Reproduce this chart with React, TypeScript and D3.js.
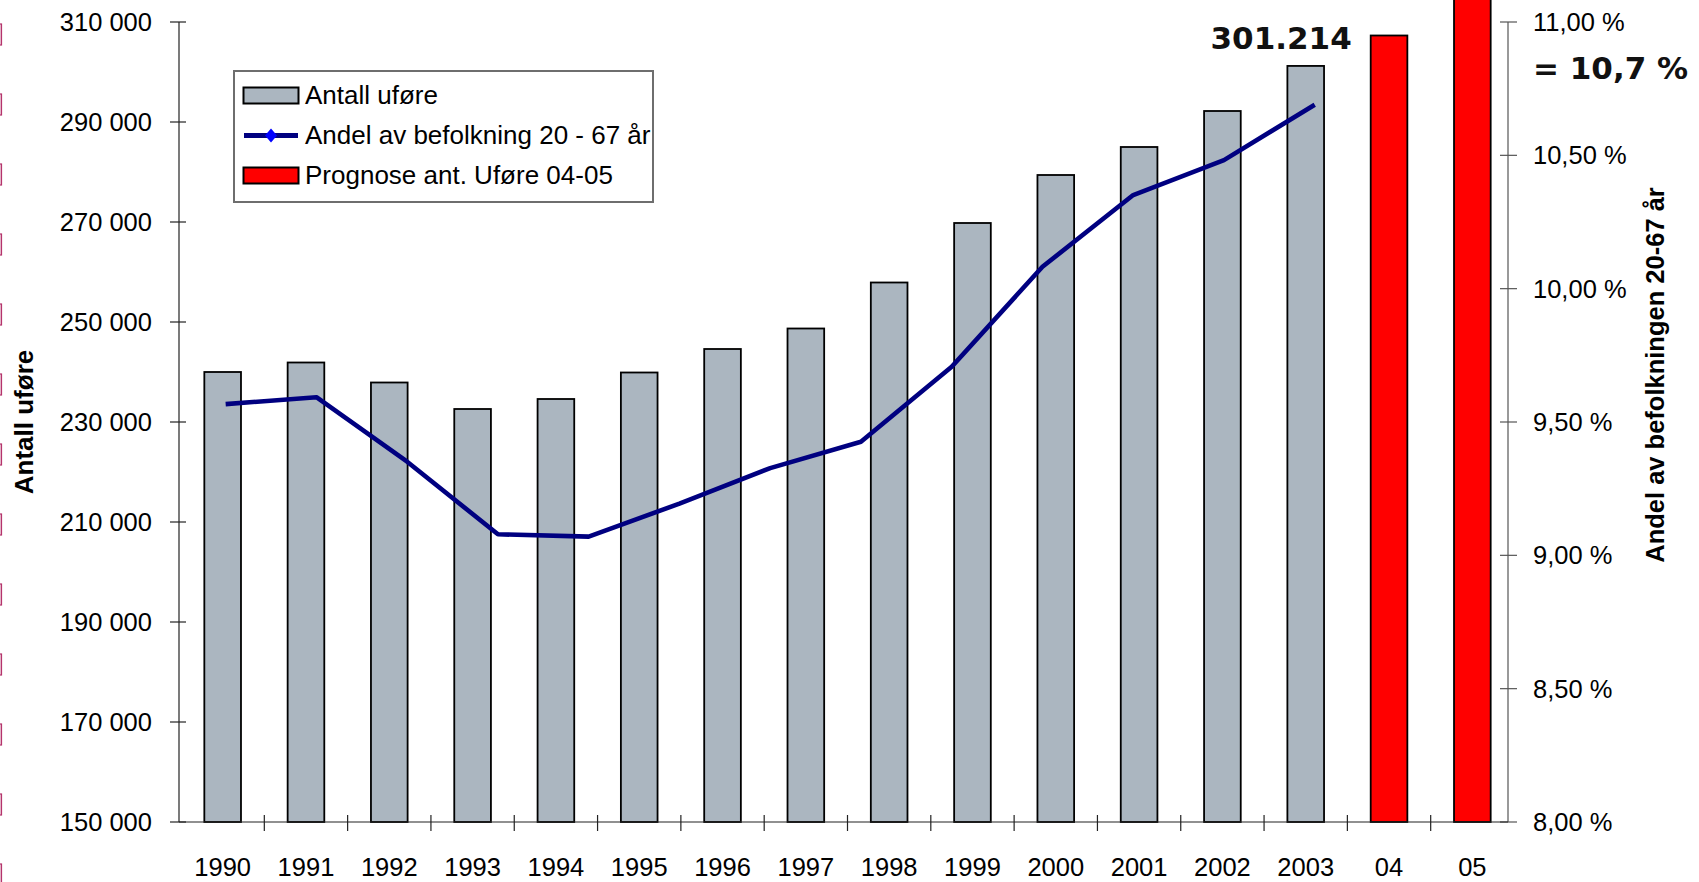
import React from "react";
import * as d3 from "d3";

// Categories along the x axis: recorded years plus the two forecast years
const categories = [
  "1990", "1991", "1992", "1993", "1994", "1995", "1996", "1997",
  "1998", "1999", "2000", "2001", "2002", "2003", "04", "05",
];

// Number of disability pensioners (Antall uføre), 1990–2003
const recordedYears = [
  "1990", "1991", "1992", "1993", "1994", "1995", "1996",
  "1997", "1998", "1999", "2000", "2001", "2002", "2003",
];
const recordedCounts = [
  240000, 241900, 237900, 232600, 234600, 239900, 244600,
  248700, 257900, 269800, 279400, 285000, 292200, 301214,
];

// Forecast of pensioners for 2004–2005
const forecastYears = ["04", "05"];
const forecastCounts = [307300, 316000];

// Share of population aged 20–67 (%), secondary axis
const shareYears = [
  "1991", "1992", "1993", "1994", "1995", "1996", "1997",
  "1998", "1999", "2000", "2001", "2002", "2003",
];
const shareValues = [
  9.567, 9.593, 9.351, 9.079, 9.07, 9.194, 9.327,
  9.426, 9.707, 10.082, 10.351, 10.482, 10.69,
];

// Axis ticks
const leftTicks = [150000, 170000, 190000, 210000, 230000, 250000, 270000, 290000, 310000];
const rightTicks = [8, 8.5, 9, 9.5, 10, 10.5, 11];

const legendItems = [
  { label: "Antall uføre", kind: "bar" },
  { label: "Andel av befolkning 20 - 67 år", kind: "line" },
  { label: "Prognose ant. Uføre 04-05", kind: "forecast" },
];

const W = 1699;
const H = 882;
const plot = { left: 179, right: 1508, top: 22, bottom: 822 };

const GREY = "#abb6c0";
const RED = "#ff0000";
const NAVY = "#000080";
const FONT = "Arial, 'Liberation Sans', sans-serif";
const BOLD_FONT = "Verdana, 'DejaVu Sans', sans-serif";

const fmtLeft = (v: number) => d3.format(",")(v).replace(/,/g, " ");
const fmtRight = (v: number) => d3.format(".2f")(v).replace(".", ",") + " %";

export default function App() {
  const x = d3
    .scaleBand<string>()
    .domain(categories)
    .range([181, 1514])
    .paddingInner(0.56)
    .paddingOuter(0.28);
  const yLeft = d3.scaleLinear().domain([150000, 310000]).range([plot.bottom, plot.top]);
  const yRight = d3.scaleLinear().domain([8, 11]).range([plot.bottom, plot.top]);
  const cx = (c: string) => (x(c) as number) + x.bandwidth() / 2;

  // The share series sits on its own category axis, spread over the recorded years
  const lx = d3
    .scalePoint<string>()
    .domain(shareYears)
    .range([cx(recordedYears[0]) + 3, cx(recordedYears[recordedYears.length - 1]) + 9]);

  const linePath =
    d3
      .line<number>()
      .x((_, i) => lx(shareYears[i]) as number)
      .y((d) => yRight(d))(shareValues) || "";

  const bars = [
    ...recordedYears.map((c, i) => ({ c, v: recordedCounts[i], fill: GREY })),
    ...forecastYears.map((c, i) => ({ c, v: forecastCounts[i], fill: RED })),
  ];

  // Category separators on the x axis (between bands)
  const step = x.step();
  const sepX = d3.range(1, categories.length).map((k) => x.range()[0] + k * step);

  const lastIdx = recordedYears.length - 1;
  const lastBarX = cx(recordedYears[lastIdx]);

  const legend = { x: 234, y: 71, w: 419, h: 131 };

  return (
    <div style={{ position: "absolute", left: 0, top: 0, width: W, height: H, background: "#fff" }}>
      <svg width={W} height={H} style={{ display: "block" }}>
        <defs>
          <clipPath id="legend-clip">
            <rect x={legend.x} y={legend.y} width={legend.w} height={legend.h} />
          </clipPath>
        </defs>
        <rect x={0} y={0} width={W} height={H} fill="#fff" />

        {/* slide border fragments on the left edge */}
        {d3.range(13).map((k) => (
          <rect
            key={"edge" + k}
            x={-3}
            y={24 + k * 70}
            width={4.5}
            height={21}
            fill="#e7c3d2"
            stroke="#b5346c"
            strokeWidth={1.2}
          />
        ))}

        {/* bars */}
        {bars.map((b) => (
          <rect
            key={b.c}
            x={x(b.c)}
            y={yLeft(b.v)}
            width={x.bandwidth()}
            height={plot.bottom - yLeft(b.v)}
            fill={b.fill}
            stroke="#000"
            strokeWidth={1.8}
          />
        ))}

        {/* share line */}
        <path d={linePath} fill="none" stroke={NAVY} strokeWidth={4.6} strokeLinejoin="round" />

        {/* left axis */}
        <line x1={plot.left} x2={plot.left} y1={plot.top} y2={plot.bottom} stroke="#222" strokeWidth={1.2} />
        {leftTicks.map((t) => (
          <g key={"l" + t}>
            <line x1={plot.left - 9} x2={plot.left + 7} y1={yLeft(t)} y2={yLeft(t)} stroke="#222" strokeWidth={1.2} />
            <text
              x={152}
              y={yLeft(t)}
              dy="0.35em"
              textAnchor="end"
              fontFamily={FONT}
              fontSize={25.5}
              fill="#000"
            >
              {fmtLeft(t)}
            </text>
          </g>
        ))}

        {/* right axis */}
        <line x1={plot.right} x2={plot.right} y1={plot.top} y2={plot.bottom} stroke="#555" strokeWidth={1.2} />
        {rightTicks.map((t) => (
          <g key={"r" + t}>
            <line x1={plot.right - 8} x2={plot.right + 9} y1={yRight(t)} y2={yRight(t)} stroke="#555" strokeWidth={1.2} />
            <text
              x={1533}
              y={yRight(t)}
              dy="0.35em"
              textAnchor="start"
              fontFamily={FONT}
              fontSize={25.5}
              fill="#000"
            >
              {fmtRight(t)}
            </text>
          </g>
        ))}

        {/* x axis */}
        <line x1={plot.left} x2={plot.right} y1={plot.bottom} y2={plot.bottom} stroke="#222" strokeWidth={1.2} />
        {sepX.map((sx, k) => (
          <line key={"sx" + k} x1={sx} x2={sx} y1={plot.bottom - 7} y2={plot.bottom + 9} stroke="#222" strokeWidth={1.2} />
        ))}
        {categories.map((c) => (
          <text key={"xl" + c} x={cx(c)} y={876} textAnchor="middle" fontFamily={FONT} fontSize={25.5} fill="#000">
            {c}
          </text>
        ))}

        {/* axis titles */}
        <text
          transform={`translate(33, 422) rotate(-90)`}
          textAnchor="middle"
          fontFamily={FONT}
          fontWeight="bold"
          fontSize={26}
          fill="#000"
        >
          Antall uføre
        </text>
        <text
          transform={`translate(1664, 375) rotate(-90)`}
          textAnchor="middle"
          fontFamily={FONT}
          fontWeight="bold"
          fontSize={25.5}
          fill="#000"
        >
          Andel av befolkningen 20-67 år
        </text>

        {/* annotations */}
        <text
          x={lastBarX + 46}
          y={49}
          textAnchor="end"
          fontFamily={BOLD_FONT}
          fontWeight="bold"
          fontSize={31}
          fill="#111"
        >
          {d3.format(",")(recordedCounts[lastIdx]).replace(/,/g, ".")}
        </text>
        <text x={1533} y={79} textAnchor="start" fontFamily={BOLD_FONT} fontWeight="bold" fontSize={31} fill="#111">
          {"= " + d3.format(".1f")(shareValues[shareValues.length - 1]).replace(".", ",") + " %"}
        </text>

        {/* legend */}
        <rect
          x={legend.x}
          y={legend.y}
          width={legend.w}
          height={legend.h}
          fill="#fff"
          stroke="#6e6e6e"
          strokeWidth={2}
        />
        <g clipPath="url(#legend-clip)">
          {legendItems.map((it, i) => {
            const cy = legend.y + 24.5 + i * 40;
            return (
              <g key={it.label}>
                {it.kind === "line" ? (
                  <g>
                    <line x1={244} x2={298} y1={cy} y2={cy} stroke={NAVY} strokeWidth={5} />
                    <path
                      d={`M${271},${cy - 7} L${277},${cy} L${271},${cy + 7} L${265},${cy} Z`}
                      fill="#0000ff"
                    />
                  </g>
                ) : (
                  <rect
                    x={243.5}
                    y={cy - 8}
                    width={55}
                    height={16}
                    fill={it.kind === "bar" ? GREY : RED}
                    stroke="#000"
                    strokeWidth={2}
                  />
                )}
                <text x={305} y={cy + 8.5} fontFamily={FONT} fontSize={26} fill="#000">
                  {it.label}
                </text>
              </g>
            );
          })}
        </g>
      </svg>
    </div>
  );
}
